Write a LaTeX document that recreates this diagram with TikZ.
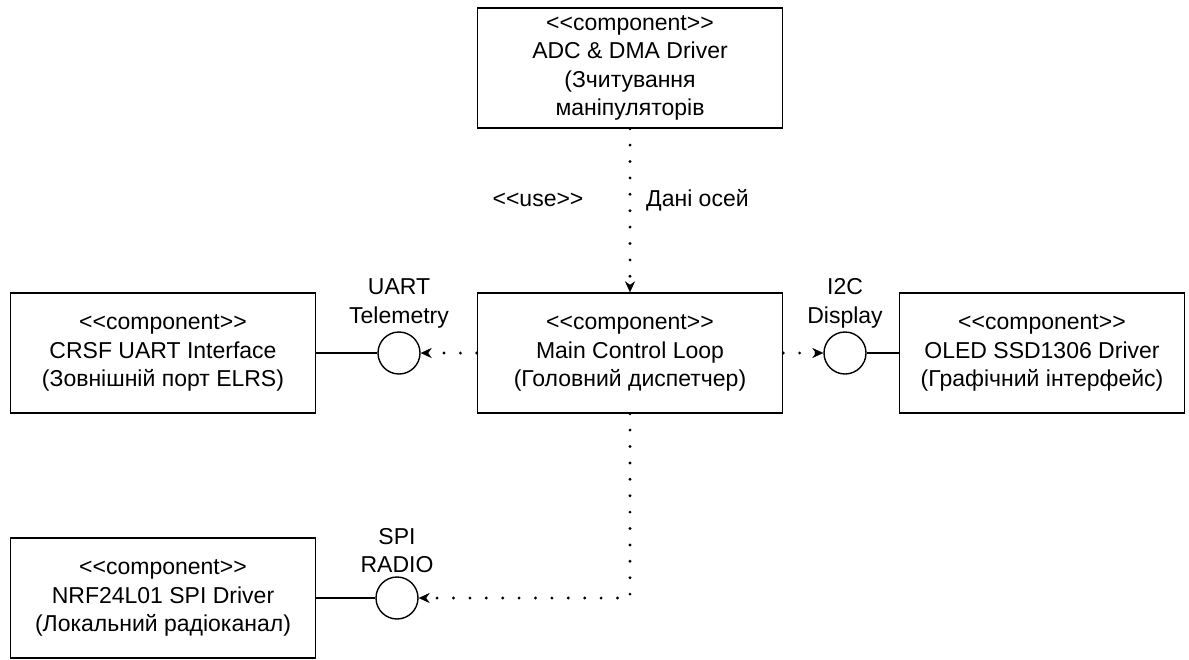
\documentclass[tikz,border=0pt]{standalone}
\usepackage{fontspec}
\newfontfamily\uifont{Liberation Sans}
\usetikzlibrary{arrows.meta}
\begin{document}
\begin{tikzpicture}[x=1pt,y=-1pt,
  txt/.style={font=\uifont\fontsize{23}{28.5}\selectfont,align=center,text=black},
  comp/.style={txt,draw,line width=1.4pt,inner sep=0pt,minimum height=120pt},
  iface/.style={draw,circle,line width=1.4pt,minimum size=42pt,inner sep=0pt},
  lbl/.style={txt,inner sep=1pt},
  dep/.style={line width=3.2pt,line cap=round,dash pattern=on 0pt off 16.4pt,
    -{Stealth[length=11pt,width=10pt,line width=0.4pt]}},
  conn/.style={line width=1.4pt}]
\fill[white] (0,0) rectangle (1189,659);
\useasboundingbox (0,0) rectangle (1189,659);

\node[comp,minimum width=305pt] (adc) at (630,68)
  {<<component>>\\ADC \& DMA Driver\\(Зчитування\\маніпуляторів};
\node[comp,minimum width=305pt] (main) at (630,353)
  {<<component>>\\Main Control Loop\\(Головний диспетчер)};
\node[comp,minimum width=305pt] (crsf) at (163,353)
  {<<component>>\\CRSF UART Interface\\(Зовнішній порт ELRS)};
\node[comp,minimum width=285pt] (oled) at (1042,353)
  {<<component>>\\OLED SSD1306 Driver\\(Графічний інтерфейс)};
\node[comp,minimum width=305pt] (nrf) at (163,598)
  {<<component>>\\NRF24L01 SPI Driver\\(Локальний радіоканал)};

\node[iface] (uart) at (399,353) {};
\node[iface] (i2c) at (845,353) {};
\node[iface] (spi) at (397,598) {};

\node[lbl,anchor=south] (uartl) at ([yshift=2pt]uart.north) {UART\\Telemetry};
\node[lbl,anchor=south] (i2cl) at ([yshift=2pt]i2c.north) {I2C\\Display};
\node[lbl,anchor=south] (spil) at ([yshift=2pt]spi.north) {SPI\\RADIO};

\node[lbl] (use) at (538,200) {<<use>>};
\node[lbl,anchor=west] (dani) at (645,200) {Дані осей};

\draw[dep] (adc.south) -- (main.north);
\draw[dep] (main.west) -- (uart.east);
\draw[dep] (main.east) -- (i2c.west);
\draw[dep] (main.south) |- (spi.east);

\draw[conn] (crsf.east) -- (uart.west);
\draw[conn] (i2c.east) -- (oled.west);
\draw[conn] (nrf.east) -- (spi.west);
\end{tikzpicture}
\end{document}
